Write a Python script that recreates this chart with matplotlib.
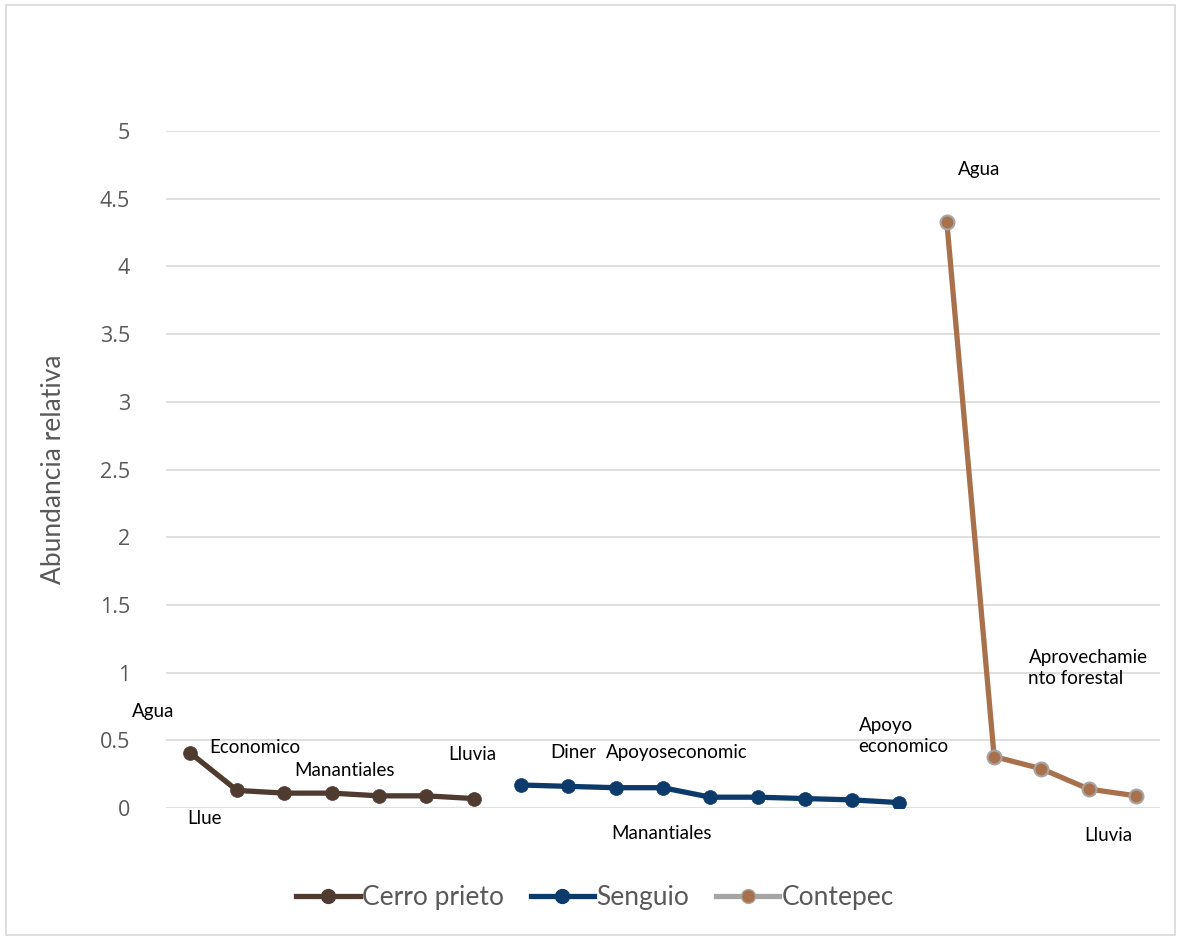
import matplotlib
matplotlib.use("Agg")
import matplotlib.pyplot as plt
import numpy as np
from matplotlib.lines import Line2D
from matplotlib.patches import Rectangle

plt.rcParams['font.family'] = ['Lato', 'DejaVu Sans']

cerro_vals = [0.41, 0.13, 0.11, 0.11, 0.09, 0.09, 0.07]
senguio_vals = [0.17, 0.16, 0.15, 0.15, 0.08, 0.08, 0.07, 0.06, 0.04]
contepec_vals = [4.33, 0.38, 0.29, 0.14, 0.09]
series_names = ["Cerro prieto", "Senguio", "Contepec"]
yticks = [0, 0.5, 1, 1.5, 2, 2.5, 3, 3.5, 4, 4.5, 5]
ytick_labels = ["0", "0.5", "1", "1.5", "2", "2.5", "3", "3.5", "4", "4.5", "5"]

# (series index, point index, text, offset px, ha)
labels = [
    (0, 0, "Agua", (-37, 41), "center"),
    (0, 1, "Economico", (18, 43), "center"),
    (0, 1, "Llue", (-33, -28), "center"),
    (0, 3, "Manantiales", (13, 23), "center"),
    (0, 6, "Lluvia", (-1, 44), "center"),
    (1, 1, "Diner", (5, 34), "center"),
    (1, 3, "Apoyoseconomic", (14, 35), "center"),
    (1, 3, "Manantiales", (-1, -46), "center"),
    (1, 8, "Apoyo\neconomico", (-41, 67), "left"),
    (2, 0, "Agua", (32, 52), "center"),
    (2, 2, "Aprovechamie\nnto forestal", (-13, 101), "left"),
    (2, 4, "Lluvia", (-28, -40), "center"),
]

colors = ["#4F3B30", "#0B3A6B", "#A9714B"]
edge_colors = ["#4F3B30", "#0B3A6B", "#A5A5A5"]
legend_line_colors = ["#4F3B30", "#0B3A6B", "#A5A5A5"]

fig = plt.figure(figsize=(11.81, 9.40), dpi=100)
ax = fig.add_axes([0.1406, 0.1404, 0.982 - 0.1406, 0.8606 - 0.1404])

all_series = [cerro_vals, senguio_vals, contepec_vals]
xs_all = []
start = 0
for i, vals in enumerate(all_series):
    xs = np.arange(start, start + len(vals))
    xs_all.append(xs)
    ax.plot(xs, vals, color=colors[i], lw=3.8, marker='o', ms=10,
            markerfacecolor=colors[i], markeredgecolor=edge_colors[i],
            markeredgewidth=1.5 if i == 2 else 0.5, zorder=3,
            solid_capstyle='round')
    start += len(vals)

ax.set_xlim(-0.5, start - 0.5)
ax.set_ylim(0, 5)
ax.set_yticks(yticks)
ax.set_yticklabels(ytick_labels, family=['Open Sans', 'DejaVu Sans'])
ax.set_xticks([])
ax.grid(axis='y', color='#D9D9D9', lw=1.2)
ax.set_axisbelow(True)
for s in ax.spines.values():
    s.set_visible(False)
ax.tick_params(axis='y', length=0, pad=26, labelsize=15.5, labelcolor='#595959')
ax.set_ylabel("Abundancia relativa", fontsize=19, color='#595959', labelpad=24)

for si, pi, txt, off, ha in labels:
    ax.annotate(txt, xy=(xs_all[si][pi], all_series[si][pi]), xytext=off,
                textcoords='offset pixels', ha=ha, va='center',
                fontsize=13.5, color='#000000', linespacing=1.3)

handles = [Line2D([0], [0], color=legend_line_colors[i], lw=3.8, marker='o', ms=10,
                  markerfacecolor=colors[i], markeredgecolor=edge_colors[i])
           for i in range(3)]
fig.legend(handles, series_names, loc='center', bbox_to_anchor=(0.504, 1 - 898 / 940),
           ncol=3, frameon=False, fontsize=19, labelcolor='#595959',
           handlelength=2.4, handletextpad=0.1, columnspacing=1.0)

fig.patches.append(Rectangle((0.005, 0.005), 0.99, 0.99, transform=fig.transFigure,
                             fill=False, edgecolor='#D9D9D9', lw=1.2))

fig.savefig("out.png", dpi=100, facecolor='white')
